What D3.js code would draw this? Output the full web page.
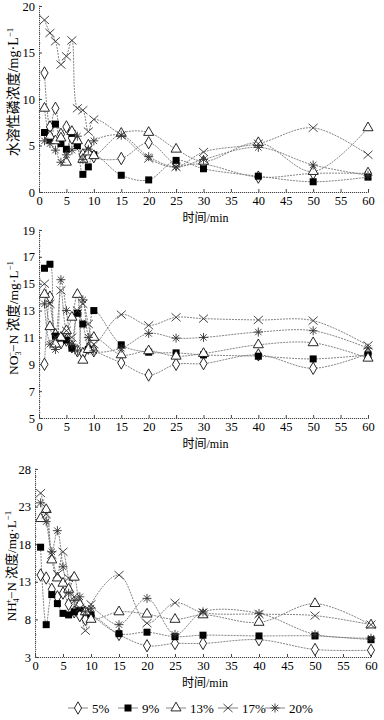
<!DOCTYPE html>
<html><head><meta charset="utf-8">
<script src="https://cdn.jsdelivr.net/npm/d3@7"></script>
<style>body{margin:0;background:#fff}svg{display:block}</style>
</head><body>
<svg id="c" width="384" height="720"></svg>
<script>
const times = [1,2,3,4,5,6,7,8,9,10,15,20,25,30,40,50,60];
const seriesNames = ["5%","9%","13%","17%","20%"];
const xTicks = [0,5,10,15,20,25,30,35,40,45,50,55,60];

// Panel 1: 水溶性磷浓度
const p1_5  = [12.8,7.0,9.0,6.2,7.0,5.8,5.2,4.0,5.0,3.8,3.6,5.3,3.0,3.0,1.6,2.0,2.0];
const p1_9  = [6.4,5.6,7.3,5.2,4.6,6.3,5.0,1.9,2.7,4.0,1.8,1.3,3.4,2.5,1.7,1.1,1.6];
const p1_13 = [9.0,6.0,5.5,5.8,3.2,6.5,5.5,3.5,4.3,3.9,6.3,6.4,4.6,3.3,5.3,2.2,6.9];
const p1_17 = [18.5,17.1,16.2,13.7,14.6,16.3,9.0,8.8,6.5,7.8,6.1,3.6,2.7,4.3,5.2,6.9,4.0];
const p1_20 = [5.5,5.2,4.5,3.2,4.0,4.5,6.0,3.5,4.6,5.5,6.1,3.8,2.7,3.5,4.8,2.9,1.8];
const p1Ticks = [0,5,10,15,20];

// Panel 2: NO3-N
const p2_5  = [9.0,14.0,11.2,10.6,10.8,10.3,10.0,9.8,10.2,10.0,9.1,8.2,9.0,9.05,9.7,8.7,9.8];
const p2_9  = [16.15,16.45,11.1,10.95,10.8,10.2,12.8,12.0,10.1,13.0,10.45,9.9,9.85,9.7,9.6,9.4,9.7];
const p2_13 = [14.2,11.8,10.5,11.0,11.5,12.5,14.2,9.3,10.1,11.0,9.7,10.0,9.6,9.8,10.45,10.6,9.45];
const p2_17 = [15.0,13.5,11.0,14.5,11.5,11.0,13.0,13.5,12.0,10.5,12.7,11.9,12.5,12.4,12.3,12.25,10.4];
const p2_20 = [13.5,10.5,10.1,15.3,13.0,10.5,10.0,13.8,11.0,10.0,10.2,11.3,10.95,11.0,11.4,11.5,10.2];
const p2Ticks = [5,7,9,11,13,15,17,19];

// Panel 3: NH4-N
const p3_5  = [13.9,13.5,12.0,11.0,11.5,10.0,9.0,8.5,8.0,8.5,6.0,4.5,4.8,4.8,5.3,4.0,3.9];
const p3_9  = [17.6,7.3,11.3,10.1,8.8,8.6,9.0,9.5,9.0,8.6,6.1,6.3,5.7,5.9,5.8,5.8,5.3];
const p3_13 = [21.4,22.6,15.9,13.5,12.8,12.0,13.6,10.0,9.0,8.0,9.0,8.7,8.0,8.6,7.6,10.1,7.25];
const p3_17 = [24.8,22.0,16.6,14.0,17.0,13.5,11.0,9.5,6.5,10.0,13.9,7.5,10.2,8.9,8.7,8.5,7.3];
const p3_20 = [23.5,21.0,17.0,19.8,15.0,11.5,10.5,11.0,9.0,9.5,7.3,10.8,6.0,9.0,8.8,6.0,5.5];
const p3Ticks = [3,8,13,18,23,28];

const svg = d3.select("#c");
const serif = "'Liberation Serif','DejaVu Serif',serif";
const cjk = "'Noto Sans CJK SC',sans-serif";

function marker(g, type, x, y) {
  const el = g.append("g").attr("transform", `translate(${x},${y})`);
  if (type === 0) {
    el.append("path").attr("d", d3.symbol(d3.symbolDiamond, 44)()).attr("fill","#fff").attr("stroke","#111").attr("stroke-width",0.9);
  } else if (type === 1) {
    el.append("rect").attr("x",-3.5).attr("y",-3.5).attr("width",7).attr("height",7).attr("fill","#000");
  } else if (type === 2) {
    el.append("path").attr("d", d3.symbol(d3.symbolTriangle, 44)()).attr("fill","#fff").attr("stroke","#111").attr("stroke-width",0.9);
  } else if (type === 3) {
    el.append("path").attr("d","M-4.5,-4L4.5,4M-4.5,4L4.5,-4").attr("stroke","#333").attr("stroke-width",0.9);
  } else {
    el.append("path").attr("d","M-4.5,0L4.5,0M0,-4.5L0,4.5M-3.2,-3.2L3.2,3.2M-3.2,3.2L3.2,-3.2").attr("stroke","#333").attr("stroke-width",0.9);
  }
}

function panel(opts) {
  const x = d3.scaleLinear().domain([0,60]).range([opts.x0, opts.x1]);
  const y = d3.scaleLinear().domain(opts.dom).range([opts.yb, opts.yt]);
  const g = svg.append("g");
  const xa = g.append("g").attr("transform",`translate(0,${opts.yb})`)
    .call(d3.axisBottom(x).tickValues(xTicks).tickSize(-3).tickPadding(4).tickFormat(d3.format("d")));
  const ya = g.append("g").attr("transform",`translate(${opts.x0},0)`)
    .call(d3.axisLeft(y).tickValues(opts.ticks).tickSize(-3).tickPadding(4).tickFormat(d3.format("d")));
  [xa, ya].forEach(a => {
    a.select(".domain").attr("stroke","#444").attr("stroke-dasharray","1.2,0.8");
    a.selectAll(".tick line").attr("stroke","#444");
    a.selectAll("text").attr("fill","#000").style("font-family",serif).style("font-size","12.5px");
  });
  const step = opts.ticks[1]-opts.ticks[0];
  const minor = [];
  for (let v = opts.dom[0]; v <= opts.dom[1]+1e-9; v += step/5) minor.push(v);
  g.append("g").selectAll("line").data(minor).join("line")
    .attr("x1",opts.x0).attr("x2",opts.x0+1.5).attr("y1",d=>y(d)).attr("y2",d=>y(d)).attr("stroke","#666").attr("stroke-width",0.7);
  const line = d3.line().x(d=>x(d[0])).y(d=>y(d[1])).curve(d3.curveCatmullRom.alpha(0.5));
  opts.series.forEach((s) => {
    const pts = times.map((t,j)=>[t,s[j]]);
    g.append("path").attr("d", line(pts)).attr("fill","none").attr("stroke","#777").attr("stroke-width",0.9).attr("stroke-dasharray","2,1");
  });
  opts.series.forEach((s, i) => {
    times.forEach((t,j)=>marker(g, i, x(t), y(s[j])));
  });
  g.append("text").attr("x",(opts.x0+opts.x1)/2+2).attr("y",opts.yb+30).attr("text-anchor","middle")
    .style("font-size","12px").style("font-family",serif)
    .call(t=>{t.append("tspan").style("font-family",cjk).text("时间");t.append("tspan").text("/min");});
  const yl = g.append("text").attr("transform",`translate(${opts.ylx},${opts.ylc}) rotate(-90)`)
    .attr("text-anchor","middle").style("font-size",opts.yfs).style("font-family",serif);
  opts.ylabel(yl);
}

panel({x0:39,x1:368,yb:192,yt:6,dom:[0,20],ticks:p1Ticks,series:[p1_5,p1_9,p1_13,p1_17,p1_20],ylx:18,ylc:92,yfs:"14px",
  ylabel:t=>{t.append("tspan").style("font-family",cjk).text("水溶性磷浓度");t.append("tspan").text("/mg·L");t.append("tspan").attr("dy",-5).style("font-size","9px").text("−1");}});
panel({x0:39,x1:368,yb:418,yt:230,dom:[5,19],ticks:p2Ticks,series:[p2_5,p2_9,p2_13,p2_17,p2_20],ylx:18,ylc:318,yfs:"13.5px",
  ylabel:t=>{t.append("tspan").text("NO");t.append("tspan").attr("dy",3).style("font-size","8px").text("3");t.append("tspan").attr("dy",-8).attr("dx",-5).style("font-size","8px").text("−");t.append("tspan").attr("dy",5).text("−N ");t.append("tspan").style("font-family",cjk).text("浓度");t.append("tspan").text("/mg·L");t.append("tspan").attr("dy",-5).style("font-size","9px").text("−1");}});
panel({x0:35,x1:371,yb:657,yt:469,dom:[3,28],ticks:p3Ticks,series:[p3_5,p3_9,p3_13,p3_17,p3_20],ylx:16,ylc:566,yfs:"13px",
  ylabel:t=>{t.append("tspan").text("NH");t.append("tspan").attr("dy",3).style("font-size","8px").text("4");t.append("tspan").attr("dy",-8).attr("dx",-5).style("font-size","8px").text("+");t.append("tspan").attr("dy",5).text("−N ");t.append("tspan").style("font-family",cjk).text("浓度");t.append("tspan").text("/mg·L");t.append("tspan").attr("dy",-5).style("font-size","9px").text("−1");}});

const lg = svg.append("g");
const lx = [68,118,166,218,265];
seriesNames.forEach((n,i)=>{
  lg.append("line").attr("x1",lx[i]).attr("x2",lx[i]+20).attr("y1",708).attr("y2",708).attr("stroke","#777").attr("stroke-width",0.9);
  marker(lg, i, lx[i]+10, 708);
  lg.append("text").attr("x",lx[i]+24).attr("y",712.5).style("font-family",serif).style("font-size","13px").text(n);
});
</script>
</body></html>
